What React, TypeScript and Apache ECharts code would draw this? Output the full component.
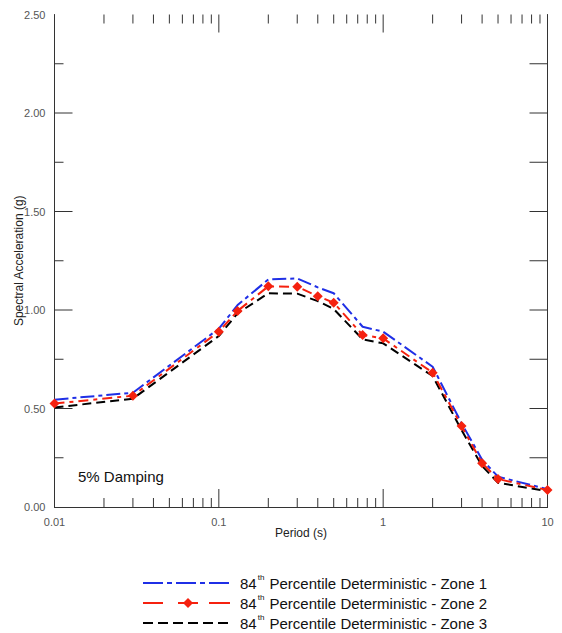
import React, { useEffect, useRef } from "react";
import * as echarts from "echarts";

const periods = [0.01, 0.03, 0.1, 0.13, 0.2, 0.3, 0.4, 0.5, 0.75, 1, 2, 3, 4, 5, 10];
const zone1 = [0.545, 0.58, 0.905, 1.025, 1.155, 1.16, 1.115, 1.085, 0.915, 0.89, 0.712, 0.425, 0.24, 0.154, 0.09];
const zone2 = [0.525, 0.565, 0.89, 0.995, 1.12, 1.118, 1.07, 1.037, 0.873, 0.856, 0.682, 0.411, 0.222, 0.142, 0.086];
const zone3 = [0.505, 0.55, 0.868, 0.983, 1.085, 1.083, 1.045, 1.005, 0.851, 0.831, 0.665, 0.39, 0.208, 0.123, 0.08];
const xMajorTicks = [0.1, 1];
const xMinorTicks = [
  0.02, 0.03, 0.04, 0.05, 0.06, 0.07, 0.08, 0.09,
  0.2, 0.3, 0.4, 0.5, 0.6, 0.7, 0.8, 0.9,
  2, 3, 4, 5, 6, 7, 8, 9,
];
const yMajorTicks = [0.5, 1, 1.5, 2];
const yMinorTicks = [0.25, 0.75, 1.25, 1.75, 2.25];
const legendNames = ["Zone 1", "Zone 2", "Zone 3"];

const FONT = "'Liberation Sans', Arial, sans-serif";
const AX = "#333";
const X_MIN = 0.01, X_MAX = 10, Y_MIN = 0, Y_MAX = 2.5;

export default function App() {
  const ref = useRef<HTMLDivElement>(null);
  useEffect(() => {
    document.body.style.margin = "0";
    const chart = echarts.init(ref.current!, null, { renderer: "svg" });
    const pairs = (ys: number[]) => periods.map((p, i) => [p, ys[i]]);
    const legendRow = (i: number, y: number) => ({
      type: "text",
      left: 240,
      top: y - 10,
      style: {
        text: `{a|84}{s|th}{a| Percentile Deterministic - ${legendNames[i]}}`,
        rich: {
          a: { fontSize: 15, fontFamily: FONT, fill: "#111", lineHeight: 20 },
          s: { fontSize: 8, fontFamily: FONT, fill: "#111", lineHeight: 20, verticalAlign: "top", padding: [0, 1, 6, 1] },
        },
      },
    });
    const st = { stroke: AX, lineWidth: 1 };
    const xTickData = [
      ...xMajorTicks.map((v) => [v, 18, 18]),
      ...xMinorTicks.map((v) => [v, 9, 9]),
    ];
    const yTickData = [
      ...yMajorTicks.map((v) => [v, 18, 18]),
      ...yMinorTicks.map((v) => [v, 9, 18]),
    ];
    chart.setOption({
      animation: false,
      grid: { left: 54.5, right: 14.5, top: 14.5, bottom: 126, containLabel: false, outerBoundsMode: "none" },
      xAxis: [
        {
          type: "log",
          logBase: 10,
          min: X_MIN,
          max: X_MAX,
          position: "bottom",
          name: "Period (s)",
          nameLocation: "middle",
          nameGap: 20,
          nameMoveOverlap: false,
          nameTextStyle: { fontSize: 12, fontFamily: FONT, color: "#222" },
          axisLine: { show: true, lineStyle: { color: AX, width: 1 } },
          axisTick: { show: false },
          axisLabel: { fontSize: 11, fontFamily: FONT, color: "#555", margin: 9 },
          splitLine: { show: false },
        },
        {
          type: "log",
          logBase: 10,
          min: X_MIN,
          max: X_MAX,
          position: "top",
          axisLine: { show: true, lineStyle: { color: AX, width: 1 } },
          axisTick: { show: false },
          axisLabel: { show: false },
          splitLine: { show: false },
        },
      ],
      yAxis: [
        {
          type: "value",
          min: Y_MIN,
          max: Y_MAX,
          interval: 0.5,
          position: "left",
          name: "Spectral Acceleration (g)",
          nameLocation: "middle",
          nameGap: 30,
          nameMoveOverlap: false,
          nameTextStyle: { fontSize: 12, fontFamily: FONT, color: "#222" },
          axisLine: { show: true, lineStyle: { color: AX, width: 1 } },
          axisTick: { show: false },
          axisLabel: { fontSize: 11, fontFamily: FONT, color: "#555", margin: 9, formatter: (v: number) => v.toFixed(2) },
          splitLine: { show: false },
        },
        {
          type: "value",
          min: Y_MIN,
          max: Y_MAX,
          interval: 0.5,
          position: "right",
          axisLine: { show: true, lineStyle: { color: AX, width: 1 } },
          axisTick: { show: false },
          axisLabel: { show: false },
          splitLine: { show: false },
        },
      ],
      series: [
        {
          type: "custom",
          silent: true,
          clip: false,
          xAxisIndex: 0,
          yAxisIndex: 0,
          data: xTickData,
          renderItem: (params: any, api: any) => {
            const v = api.value(0);
            const lb = api.value(1);
            const lt = api.value(2);
            const b = api.coord([v, Y_MIN]);
            const t = api.coord([v, Y_MAX]);
            return {
              type: "group",
              children: [
                { type: "line", shape: { x1: b[0], y1: b[1], x2: b[0], y2: b[1] - lb }, style: st },
                { type: "line", shape: { x1: t[0], y1: t[1], x2: t[0], y2: t[1] + lt }, style: st },
              ],
            };
          },
        },
        {
          type: "custom",
          silent: true,
          clip: false,
          xAxisIndex: 0,
          yAxisIndex: 0,
          data: yTickData.map((d) => [X_MIN, d[0], d[1], d[2]]),
          encode: { x: 0, y: 1 },
          renderItem: (params: any, api: any) => {
            const v = api.value(1);
            const ll = api.value(2);
            const lr = api.value(3);
            const l = api.coord([X_MIN, v]);
            const r = api.coord([X_MAX, v]);
            return {
              type: "group",
              children: [
                { type: "line", shape: { x1: l[0], y1: l[1], x2: l[0] + ll, y2: l[1] }, style: st },
                { type: "line", shape: { x1: r[0], y1: r[1], x2: r[0] - lr, y2: r[1] }, style: st },
              ],
            };
          },
        },
        {
          type: "line",
          name: "Zone 3",
          data: pairs(zone3),
          showSymbol: false,
          symbol: "none",
          lineStyle: { color: "#000", width: 2, type: [9, 5] },
        },
        {
          type: "line",
          name: "Zone 1",
          data: pairs(zone1),
          showSymbol: false,
          symbol: "none",
          lineStyle: { color: "#1f2fe6", width: 2, type: [14, 4, 4, 4] },
        },
        {
          type: "line",
          name: "Zone 2",
          data: pairs(zone2),
          symbol: "diamond",
          symbolSize: 10,
          showSymbol: true,
          itemStyle: { color: "#f5210f" },
          lineStyle: { color: "#f5210f", width: 2, type: [10, 5, 4, 5] },
        },
      ],
      graphic: [
        {
          type: "text",
          left: 78,
          top: 469,
          style: { text: "5% Damping", fontSize: 15, fontFamily: FONT, fill: "#111" },
        },
        { type: "line", shape: { x1: 143, y1: 583, x2: 230, y2: 583 }, style: { stroke: "#1f2fe6", lineWidth: 2, lineDash: [20, 4, 5, 4] } },
        { type: "line", shape: { x1: 143, y1: 603, x2: 163, y2: 603 }, style: { stroke: "#f5210f", lineWidth: 2 } },
        { type: "line", shape: { x1: 178, y1: 603, x2: 198, y2: 603 }, style: { stroke: "#f5210f", lineWidth: 2 } },
        { type: "line", shape: { x1: 209, y1: 603, x2: 230, y2: 603 }, style: { stroke: "#f5210f", lineWidth: 2 } },
        { type: "polygon", shape: { points: [[188, 598], [193, 603], [188, 608], [183, 603]] }, style: { fill: "#f5210f" } },
        { type: "line", shape: { x1: 143, y1: 623, x2: 230, y2: 623 }, style: { stroke: "#000", lineWidth: 2, lineDash: [10, 5] } },
        legendRow(0, 583),
        legendRow(1, 603),
        legendRow(2, 623),
      ],
    });
    return () => chart.dispose();
  }, []);
  return <div ref={ref} style={{ width: 562, height: 633 }} />;
}
